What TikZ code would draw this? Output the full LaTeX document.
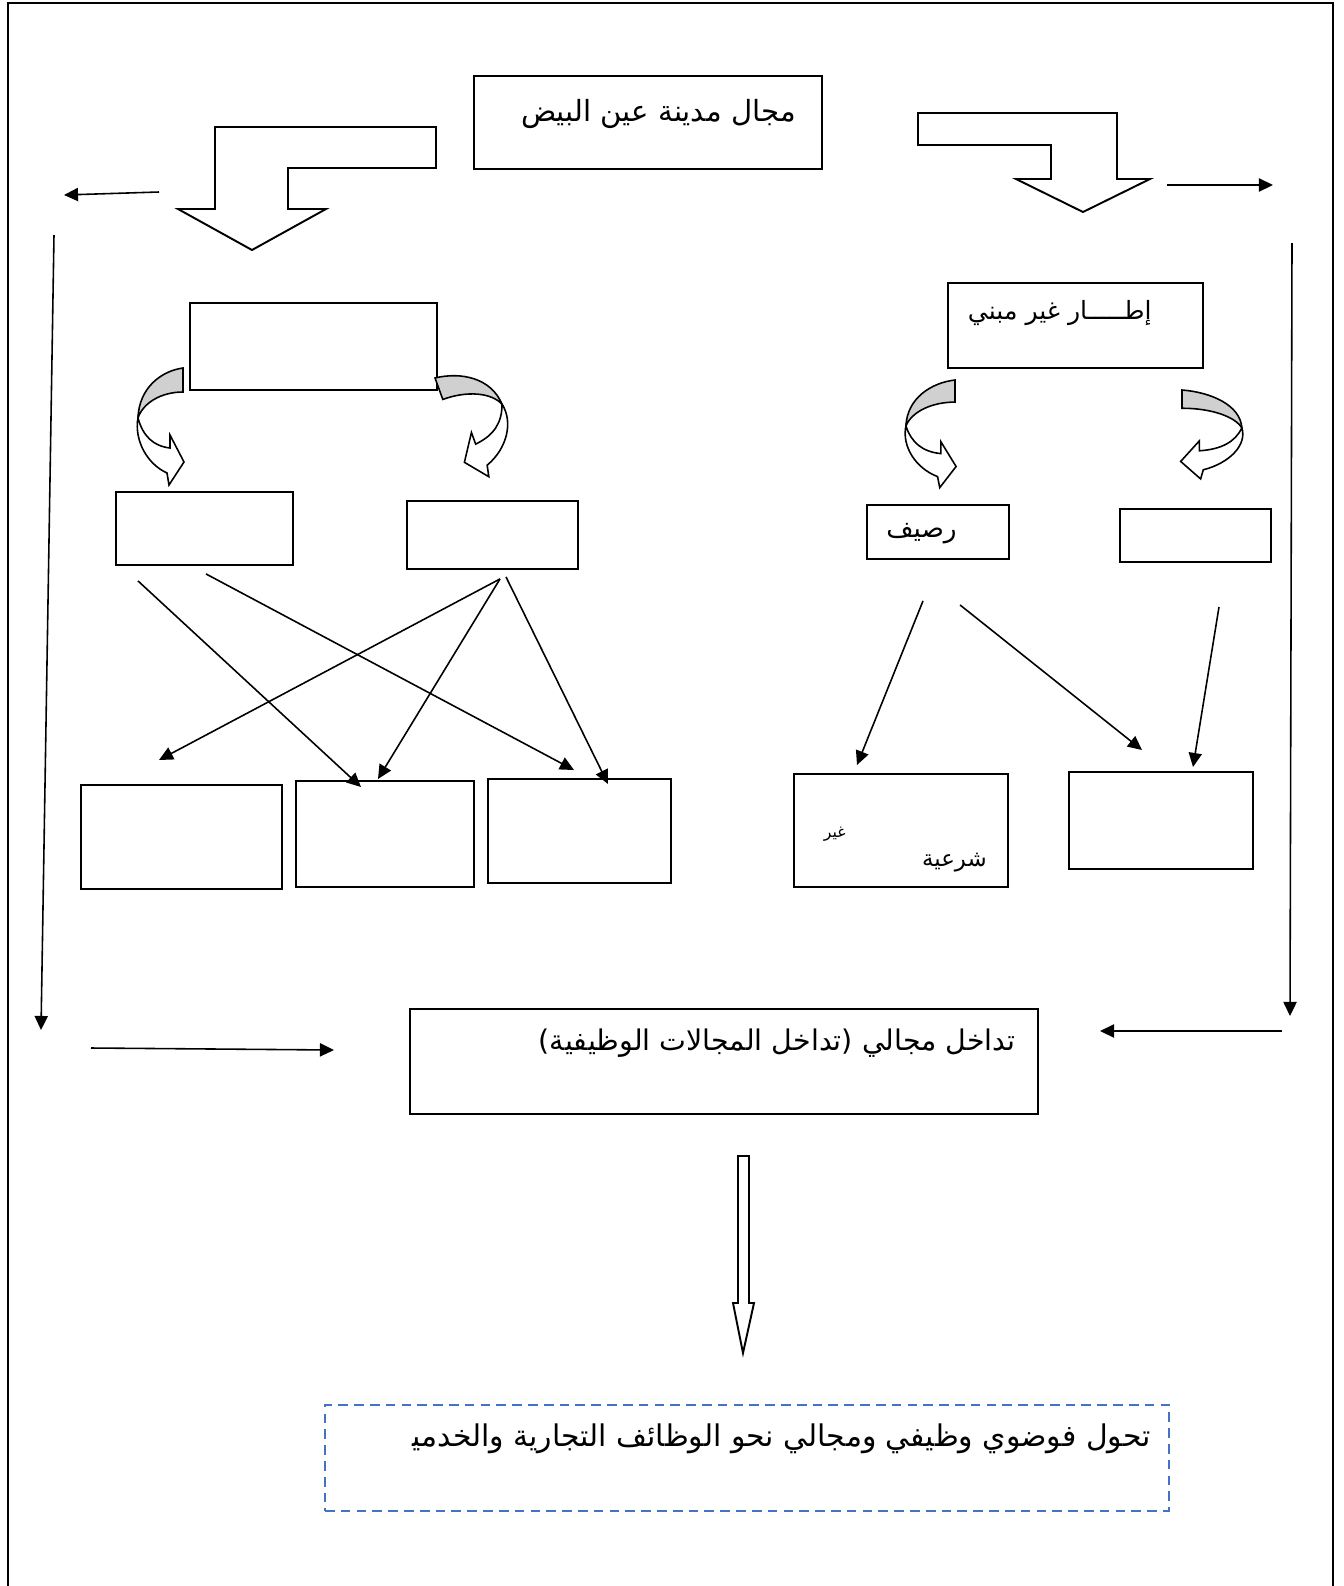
\documentclass[tikz,border=0pt]{standalone}
\usepackage{fontspec}
\usepackage{tikz}
\usetikzlibrary{arrows.meta}
\newfontfamily\arabicfont[Script=Arabic]{DejaVu Sans}
\TeXXeTstate=1
\definecolor{shade}{HTML}{D0D0D0}
\definecolor{dashblue}{HTML}{4472C4}
\newcommand{\artxt}[1]{\arabicfont\beginR #1\endR}

\tikzset{
  curvarr/.pic={
    \draw[line width=0.9pt,fill=shade] (0,0) .. controls (-22,3) and (-44,20) .. (-45,50)
      .. controls (-40,35) and (-22,24) .. (0,24) -- cycle;
    \draw[line width=0.9pt,fill=white,line join=miter] (-45,50) .. controls (-49,72) and (-36,96) .. (-16,105)
      -- (-14,117) -- (1,94) -- (-13,67) -- (-13,80) .. controls (-30,78) and (-40,68) .. (-45,50) -- cycle;
  }
}

\begin{document}
\begin{tikzpicture}[x=0.02cm,y=-0.02cm,
  bx/.style 2 args={draw,line width=1.1pt,anchor=north west,inner sep=0pt,
    minimum width=#1*0.02cm,minimum height=#2*0.02cm},
  txt/.style={inner sep=0pt,anchor=base east},
  arr/.style={-{Triangle[length=8pt,width=7.5pt]},line width=0.9pt},
  blockarr/.style={draw,line width=1.1pt,fill=white,line join=miter}]
  \useasboundingbox (0,0) rectangle (1343,1586);
  \draw[line width=1.1pt] (8,1586) -- (8,3) -- (1333,3) -- (1333,1586);

  % top: the city
  \node[bx={348}{93}] (city) at (473,75) {};
  \node[txt,font={\fontsize{16.6}{20}\selectfont}] (cityT) at (796,121) {\artxt{مجال مدينة عين البيض}};
  \draw[blockarr] (215,127) -- (436,127) -- (436,168) -- (288,168) -- (288,209) -- (326,209)
    -- (252,250) -- (178,209) -- (215,209) -- cycle;
  \draw[blockarr] (918,113) -- (1117,113) -- (1117,179) -- (1150,179) -- (1083,212)
    -- (1016,179) -- (1051,179) -- (1051,145) -- (918,145) -- cycle;

  % left branch
  \node[bx={247}{87}] (lframe) at (189,302) {};
  \node[bx={177}{73}] (lA) at (115,491) {};
  \node[bx={171}{68}] (lB) at (406,500) {};
  \node[bx={201}{104}] (lC) at (80,784) {};
  \node[bx={178}{106}] (lD) at (295,780) {};
  \node[bx={183}{104}] (lE) at (487,778) {};
  \pic at (183,368) {curvarr};
  \pic[rotate=20,xscale=-1.2,yscale=0.95] at (435,378) {curvarr};
  \draw[arr] ([shift={(23,15)}]lA.south west) -- ([shift={(66,7)}]lD.north west);
  \draw[arr] ([shift={(91,8)}]lA.south west) -- ([shift={(87,-8)}]lE.north west);
  \draw[arr] ([shift={(94,9)}]lB.south west) -- ([shift={(79,-24)}]lC.north west);
  \draw[arr] ([shift={(94,9)}]lB.south west) -- ([shift={(83,-1)}]lD.north west);
  \draw[arr] ([shift={(100,7)}]lB.south west) -- ([shift={(121,6)}]lE.north west);

  % right branch
  \node[bx={255}{85}] (rframe) at (947,282) {};
  \node[txt,font={\fontsize{14.3}{17}\selectfont}] (rframeT) at (1152,319) {\artxt{إطـــــار غير مبني}};
  \node[bx={142}{54}] (rA) at (866,504) {};
  \node[txt,font={\fontsize{15}{18}\selectfont}] (rAT) at (957,537) {\artxt{رصيف}};
  \node[bx={151}{53}] (rB) at (1119,508) {};
  \node[bx={214}{113}] (rC) at (793,773) {};
  \node[txt,font={\fontsize{9}{11}\selectfont}] (rCT1) at (846,837) {\artxt{غير}};
  \node[txt,font={\fontsize{13}{15}\selectfont}] (rCT2) at (987,866) {\artxt{شرعية}};
  \node[bx={184}{97}] (rD) at (1068,771) {};
  \pic[xscale=1.09,yscale=0.92] at (955,380) {curvarr};
  \pic[xscale=-1.33,yscale=0.76] at (1182,390) {curvarr};
  \draw[arr] ([shift={(57,41)}]rA.south west) -- ([shift={(64,-8)}]rC.north west);
  \draw[arr] ([shift={(94,45)}]rA.south west) -- ([shift={(74,-21)}]rD.north west);
  \draw[arr] ([shift={(100,44)}]rB.south west) -- ([shift={(125,-4)}]rD.north west);

  % outer arrows
  \coordinate (tl1) at (159,192); \coordinate (tl2) at (64,195);
  \coordinate (ll1) at (54,235);  \coordinate (ll2) at (41,1030);
  \coordinate (bl1) at (91,1048); \coordinate (bl2) at (334,1050);
  \coordinate (tr1) at (1167,185); \coordinate (tr2) at (1273,185);
  \coordinate (rr1) at (1292,243); \coordinate (rr2) at (1290,1016);
  \coordinate (br1) at (1282,1031); \coordinate (br2) at (1100,1031);
  \draw[arr] (tl1) -- (tl2); \draw[arr] (ll1) -- (ll2); \draw[arr] (bl1) -- (bl2);
  \draw[arr] (tr1) -- (tr2); \draw[arr] (rr1) -- (rr2); \draw[arr] (br1) -- (br2);

  % bottom
  \node[bx={628}{105}] (mix) at (409,1008) {};
  \node[txt,font={\fontsize{16.2}{20}\selectfont}] (mixT) at (1016,1050) {\artxt{تداخل مجالي (تداخل المجالات الوظيفية)}};
  \draw[blockarr] (738,1156) -- (749,1156) -- (749,1303) -- (754,1303) -- (743,1353)
    -- (733,1303) -- (738,1303) -- cycle;
  \node[bx={844}{106},draw=dashblue,dash pattern=on 5.5pt off 3.5pt] (result) at (324,1404) {};
  \node[txt,font={\fontsize{17}{20}\selectfont}] (resultT) at (1151,1446) {\artxt{تحول فوضوي وظيفي ومجالي نحو الوظائف التجارية والخدمي^^^^200d}};
\end{tikzpicture}
\end{document}
